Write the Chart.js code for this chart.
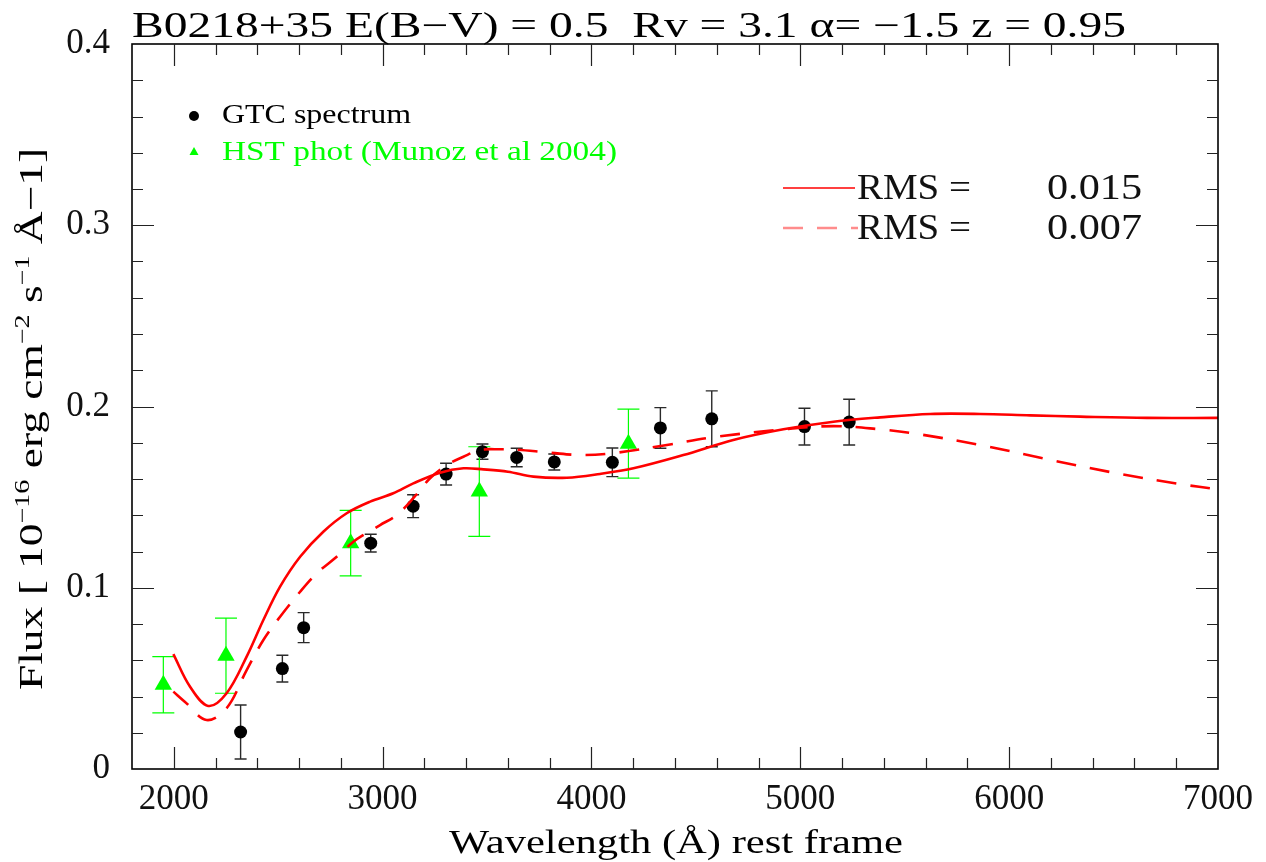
<!DOCTYPE html>
<html>
<head>
<meta charset="utf-8">
<script src="https://cdn.jsdelivr.net/npm/chart.js@4.4.0/dist/chart.umd.min.js"></script>
<style>
  html, body { margin: 0; padding: 0; background: #fff; }
</style>
</head>
<body>
<canvas id="sed" width="1266" height="862"></canvas>
<script>
// GTC spectrum (rest frame wavelength, flux, error)
var gtcWave = [2320, 2520, 2622, 2943, 3146, 3304, 3478, 3642, 3822, 4100, 4330, 4576, 5020, 5234];
var gtcFlux = [0.0204, 0.0554, 0.0780, 0.1246, 0.1450, 0.1627, 0.1751, 0.1719, 0.1694, 0.1692, 0.1882, 0.1932, 0.1889, 0.1914];
var gtcErr  = [0.0149, 0.0074, 0.0083, 0.0049, 0.0063, 0.0060, 0.0042, 0.0051, 0.0044, 0.0079, 0.0112, 0.0154, 0.0101, 0.0126];

// HST photometry (Munoz et al 2004)
var hstWave = [1950, 2250, 2847, 3463, 4177];
var hstFlux = [0.0465, 0.0625, 0.1246, 0.1531, 0.1795];
var hstErr  = [0.0155, 0.0207, 0.0181, 0.0247, 0.0190];

// model, RMS = 0.015 (solid)
var solidWave = [1998, 2078, 2165, 2253, 2349, 2429, 2509, 2605, 2716, 2828, 2940, 3051, 3147, 3275, 3387, 3483,
                 3600, 3722, 3882, 4041, 4201, 4440, 4679, 4919, 5159, 5382, 5622, 5861, 6101, 6340, 6660, 7000];
var solidFlux = [0.0634, 0.0454, 0.0348, 0.0418, 0.0620, 0.0822, 0.1006, 0.1171, 0.1309, 0.1411, 0.1475, 0.1521, 0.1576, 0.1635, 0.1659, 0.1653,
                 0.1640, 0.1613, 0.1607, 0.1628, 0.1659, 0.1732, 0.1815, 0.1874, 0.1916, 0.1940, 0.1959, 0.1959, 0.1951, 0.1944, 0.1937, 0.1937];

// model, RMS = 0.007 (dashed)
var dashWave = [1998, 2054, 2157, 2253, 2349, 2429, 2509, 2605, 2685, 2780, 2860, 2907, 2988, 3068, 3147, 3227, 3307, 3387, 3467,
                3562, 3642, 3802, 3961, 4121, 4361, 4600, 4919, 5159, 5382, 5542, 5861, 6181, 6500, 6819, 7000];
var dashFlux = [0.0427, 0.0370, 0.0270, 0.0335, 0.0546, 0.0712, 0.0840, 0.0978, 0.1080, 0.1171, 0.1254, 0.1290, 0.1346, 0.1401, 0.1494, 0.1604, 0.1677, 0.1723, 0.1760,
                0.1764, 0.1762, 0.1745, 0.1732, 0.1745, 0.1788, 0.1833, 0.1874, 0.1892, 0.1874, 0.1852, 0.1788, 0.1709, 0.1635, 0.1572, 0.1543];

// axes
var xTicks = [2000, 3000, 4000, 5000, 6000, 7000];
var yTicks = [0, 0.1, 0.2, 0.3, 0.4];

var SERIF = "'Liberation Serif', 'DejaVu Serif', serif";

function toPoints(xs, ys) {
    return xs.map(function (x, i) { return { x: x, y: ys[i] }; });
}

// text stretched horizontally to a given width (the original font is a wide Hershey one)
function fitText(ctx, str, x, y, w) {
    var m = ctx.measureText(str).width;
    ctx.save();
    ctx.translate(x, y);
    ctx.scale(w / m, 1);
    ctx.textAlign = "left";
    ctx.fillText(str, 0, 0);
    ctx.restore();
}

function drawErrors(ctx, xs, ys, wave, flux, err, color, width, cap) {
    ctx.save();
    ctx.strokeStyle = color;
    ctx.lineWidth = width;
    for (var i = 0; i < wave.length; i++) {
        var px = xs.getPixelForValue(wave[i]);
        var top = ys.getPixelForValue(flux[i] + err[i]);
        var bot = ys.getPixelForValue(flux[i] - err[i]);
        ctx.beginPath();
        ctx.moveTo(px, top); ctx.lineTo(px, bot);
        ctx.moveTo(px - cap, top); ctx.lineTo(px + cap, top);
        ctx.moveTo(px - cap, bot); ctx.lineTo(px + cap, bot);
        ctx.stroke();
    }
    ctx.restore();
}

var framePlugin = {
    id: "framePlugin",
    beforeDatasetsDraw: function (chart) {
        var ctx = chart.ctx, xs = chart.scales.x, ys = chart.scales.y;
        drawErrors(ctx, xs, ys, gtcWave, gtcFlux, gtcErr, "#2a2a2a", 1.4, 6);
        drawErrors(ctx, xs, ys, hstWave, hstFlux, hstErr, "#00ff00", 1.2, 11);
    },
    afterDraw: function (chart) {
        var ctx = chart.ctx, a = chart.chartArea;
        var xs = chart.scales.x, ys = chart.scales.y;
        ctx.save();

        // box
        ctx.strokeStyle = "#000";
        ctx.lineWidth = 1.6;
        ctx.strokeRect(a.left, a.top, a.right - a.left, a.bottom - a.top);

        // inward ticks on all four sides
        ctx.lineWidth = 1.2;
        ctx.strokeStyle = "#222";
        ctx.beginPath();
        for (var i = 1; i < 26; i++) {
            var v = 1800 + i * 200;
            var px = Math.round(xs.getPixelForValue(v)) + 0.5;
            var len = v % 1000 === 0 ? 22 : 11;
            ctx.moveTo(px, a.bottom); ctx.lineTo(px, a.bottom - len);
            ctx.moveTo(px, a.top); ctx.lineTo(px, a.top + len);
        }
        for (var j = 1; j < 20; j++) {
            var py = Math.round(ys.getPixelForValue(j * 0.02)) + 0.5;
            var ylen = j % 5 === 0 ? 22 : 11;
            ctx.moveTo(a.left, py); ctx.lineTo(a.left + ylen, py);
            ctx.moveTo(a.right, py); ctx.lineTo(a.right - ylen, py);
        }
        ctx.stroke();

        ctx.fillStyle = "#000";
        ctx.textBaseline = "alphabetic";

        // title
        ctx.font = "35px " + SERIF;
        fitText(ctx, "B0218+35 E(B\u2212V) = 0.5  Rv = 3.1 \u03b1= \u22121.5 z = 0.95", a.left, 37, 994);

        // x axis title
        ctx.font = "34px " + SERIF;
        fitText(ctx, "Wavelength (\u00c5) rest frame", 449, 853, 454);

        // y axis title with superscripts, rotated
        var parts = [["Flux [ 10", 0], ["\u221216", 1], [" erg cm", 0], ["\u22122", 1], [" s", 0], ["\u22121", 1], [" \u00c5\u22121]", 0]];
        var total = 0;
        parts.forEach(function (p) {
            ctx.font = (p[1] ? "21px " : "34px ") + SERIF;
            p.push(ctx.measureText(p[0]).width);
            total += p[2];
        });
        var sx = 542 / total;
        ctx.save();
        ctx.translate(42, 419);
        ctx.rotate(-Math.PI / 2);
        ctx.scale(sx, 1);
        var cx = -total / 2;
        parts.forEach(function (p) {
            ctx.font = (p[1] ? "21px " : "34px ") + SERIF;
            ctx.fillText(p[0], cx, p[1] ? -13 : 0);
            cx += p[2];
        });
        ctx.restore();

        // symbol legend
        ctx.beginPath();
        ctx.arc(194, 116, 5, 0, Math.PI * 2);
        ctx.fill();
        ctx.font = "27px " + SERIF;
        fitText(ctx, "GTC spectrum", 222, 123, 189);
        ctx.fillStyle = "#00ff00";
        ctx.beginPath();
        ctx.moveTo(194, 147); ctx.lineTo(198.5, 155); ctx.lineTo(189.5, 155);
        ctx.closePath();
        ctx.fill();
        fitText(ctx, "HST phot (Munoz et al 2004)", 222, 160, 395);

        // line legend
        ctx.strokeStyle = "#ff0000";
        ctx.lineWidth = 1.4;
        ctx.beginPath(); ctx.moveTo(783, 188); ctx.lineTo(855, 188); ctx.stroke();
        ctx.strokeStyle = "rgba(255,0,0,0.45)";
        ctx.lineWidth = 2.6;
        ctx.setLineDash([20, 14]);
        ctx.beginPath(); ctx.moveTo(783, 228); ctx.lineTo(858, 228); ctx.stroke();
        ctx.setLineDash([]);
        ctx.fillStyle = "#111";
        ctx.font = "35px " + SERIF;
        fitText(ctx, "RMS =", 857, 199, 114);
        fitText(ctx, "0.015", 1047, 199, 95);
        fitText(ctx, "RMS =", 857, 239, 114);
        fitText(ctx, "0.007", 1047, 239, 95);

        ctx.restore();
    }
};

var ctx = document.getElementById("sed").getContext("2d");
var sedChart = new Chart(ctx, {
    type: "scatter",
    data: {
        datasets: [
            {
                label: "RMS = 0.015",
                data: toPoints(solidWave, solidFlux),
                showLine: true,
                borderColor: "#ff0000",
                borderWidth: 2.6,
                pointRadius: 0,
                tension: 0.35,
                order: 0,
            },
            {
                label: "RMS = 0.007",
                data: toPoints(dashWave, dashFlux),
                showLine: true,
                borderColor: "#ff0000",
                borderWidth: 2.6,
                borderDash: [20, 14],
                pointRadius: 0,
                tension: 0.35,
                order: 0,
            },
            {
                label: "HST phot (Munoz et al 2004)",
                data: toPoints(hstWave, hstFlux),
                pointStyle: "triangle",
                pointRadius: 10,
                backgroundColor: "#00ff00",
                borderWidth: 0,
                order: 1,
            },
            {
                label: "GTC spectrum",
                data: toPoints(gtcWave, gtcFlux),
                pointStyle: "circle",
                pointRadius: 6.5,
                backgroundColor: "#000",
                borderWidth: 0,
                order: 2,
            },
        ],
    },
    options: {
        responsive: false,
        animation: false,
        devicePixelRatio: 1,
        layout: { padding: { top: 44, right: 48, left: 0, bottom: 0 } },
        plugins: {
            legend: { display: false },
            tooltip: { enabled: false },
        },
        scales: {
            x: {
                type: "linear",
                min: 1800,
                max: 7000,
                afterBuildTicks: function (s) { s.ticks = xTicks.map(function (v) { return { value: v }; }); },
                afterFit: function (s) { s.height = 93; },
                grid: { display: false, drawTicks: false },
                border: { display: false },
                ticks: {
                    color: "#111",
                    padding: 10,
                    maxRotation: 0,
                    font: { family: SERIF, size: 35 },
                    callback: function (v) { return String(v); },
                },
            },
            y: {
                type: "linear",
                min: 0,
                max: 0.4,
                afterBuildTicks: function (s) { s.ticks = yTicks.map(function (v) { return { value: v }; }); },
                afterFit: function (s) { s.width = 132; },
                grid: { display: false, drawTicks: false },
                border: { display: false },
                ticks: {
                    color: "#111",
                    padding: 22,
                    font: { family: SERIF, size: 35 },
                    callback: function (v) { return v === 0 ? "0" : v.toFixed(1); },
                },
            },
        },
    },
    plugins: [framePlugin],
});
</script>
</body>
</html>
